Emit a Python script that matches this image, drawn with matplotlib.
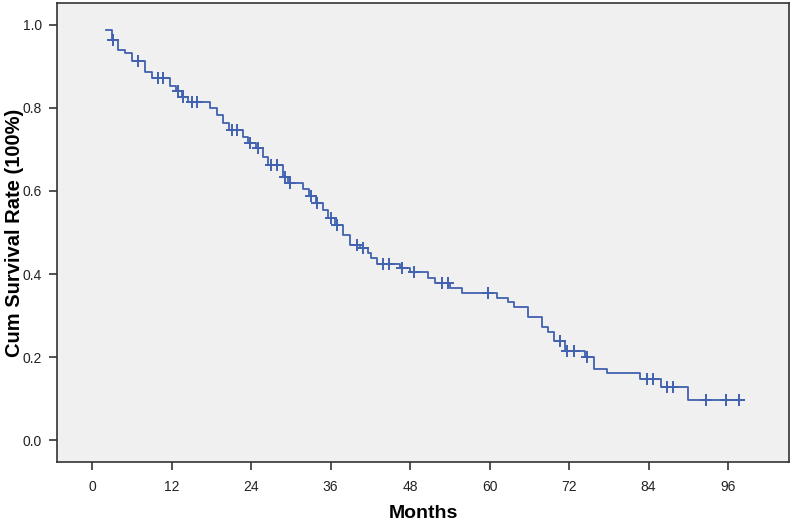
import numpy as np
import matplotlib
matplotlib.use('Agg')
import matplotlib.pyplot as plt

# Kaplan-Meier curve (months, survival after each step)
start_month = 2.1
start_surv = 0.988
event_months = [3.0, 3.9, 5.0, 6.0, 8.0, 9.1, 11.8, 12.7, 13.6, 14.5,
                17.8, 18.9, 19.8, 20.7, 22.8, 23.5, 24.8, 25.8, 26.6, 28.8,
                29.6, 31.8, 32.8, 33.8, 34.9, 35.6, 36.7, 37.9, 38.9, 40.5,
                41.7, 42.1, 43.0, 46.5, 48.0, 50.7, 51.8, 54.0, 55.8, 61.1,
                62.8, 63.7, 65.8, 67.9, 68.8, 69.7, 71.4, 74.4, 75.8, 77.7,
                82.7, 85.9, 90.0]
surv_after = [0.964, 0.940, 0.932, 0.913, 0.887, 0.872, 0.853, 0.840, 0.827, 0.815,
              0.800, 0.783, 0.764, 0.748, 0.730, 0.716, 0.703, 0.682, 0.663, 0.634,
              0.620, 0.605, 0.588, 0.571, 0.554, 0.535, 0.518, 0.494, 0.470, 0.462,
              0.450, 0.439, 0.423, 0.414, 0.405, 0.390, 0.378, 0.366, 0.354, 0.342,
              0.333, 0.320, 0.296, 0.272, 0.260, 0.239, 0.215, 0.200, 0.171, 0.161,
              0.147, 0.128, 0.096]
end_month = 98.3
censor_months = [3.1, 6.9, 10.0, 10.7, 13.0, 13.7, 15.1, 15.8, 21.1, 21.9,
                 23.8, 25.1, 27.0, 27.9, 29.1, 29.9, 33.1, 34.0, 36.1, 37.0,
                 40.0, 40.9, 43.9, 44.8, 46.8, 48.6, 52.8, 53.7, 59.8, 70.6,
                 71.7, 72.8, 74.7, 83.8, 84.7, 86.8, 87.7, 92.7, 95.7, 97.7]

x_ticks = [0, 12, 24, 36, 48, 60, 72, 84, 96]
y_ticks = [0.0, 0.2, 0.4, 0.6, 0.8, 1.0]

t = np.array([start_month] + event_months + [end_month])
s = np.array([start_surv] + surv_after + [surv_after[-1]])

# survival level at each censored time
idx = np.searchsorted(t, censor_months, side='right') - 1
censor_surv = s[idx]

line_col = '#4262b0'

fig = plt.figure(figsize=(7.92, 5.22), dpi=100)
ax = fig.add_axes([57 / 792, 60 / 522, 732 / 792, 459 / 522])
ax.set_facecolor('#f0f0f0')

ax.step(t, s, where='post', color=line_col, lw=1.3)
ax.plot(censor_months, censor_surv, ls='none', marker='+', ms=8, mew=1.4, color=line_col)

ax.set_xlim(-5.3, 105.2)
ax.set_ylim(-0.053, 1.053)
ax.set_xticks(x_ticks)
ax.set_xticklabels([str(v) for v in x_ticks])
ax.set_yticks(y_ticks)
ax.set_yticklabels(['%.1f' % v for v in y_ticks])

tick_font = ['Liberation Sans', 'DejaVu Sans']
for lab in ax.get_xticklabels() + ax.get_yticklabels():
    lab.set_family(tick_font)
    lab.set_fontsize(10)
    lab.set_color('#222222')
ax.tick_params(direction='out', length=6, width=1.1, color='#222222', pad=5)
ax.tick_params(axis='x', pad=7)

for sp in ax.spines.values():
    sp.set_color('#333333')
    sp.set_linewidth(1.2)

ax.set_xlabel('Months', fontsize=14, fontweight='bold',
              family=['Liberation Sans', 'DejaVu Sans'])
ax.set_ylabel('Cum Survival Rate (100%)', fontsize=14.5, fontweight='bold',
              family=['Liberation Sans', 'DejaVu Sans'])
ax.xaxis.set_label_coords(0.5, -0.093)
ax.yaxis.set_label_coords(-0.045, 0.5)

fig.savefig('out.png', dpi=100, facecolor='white')
